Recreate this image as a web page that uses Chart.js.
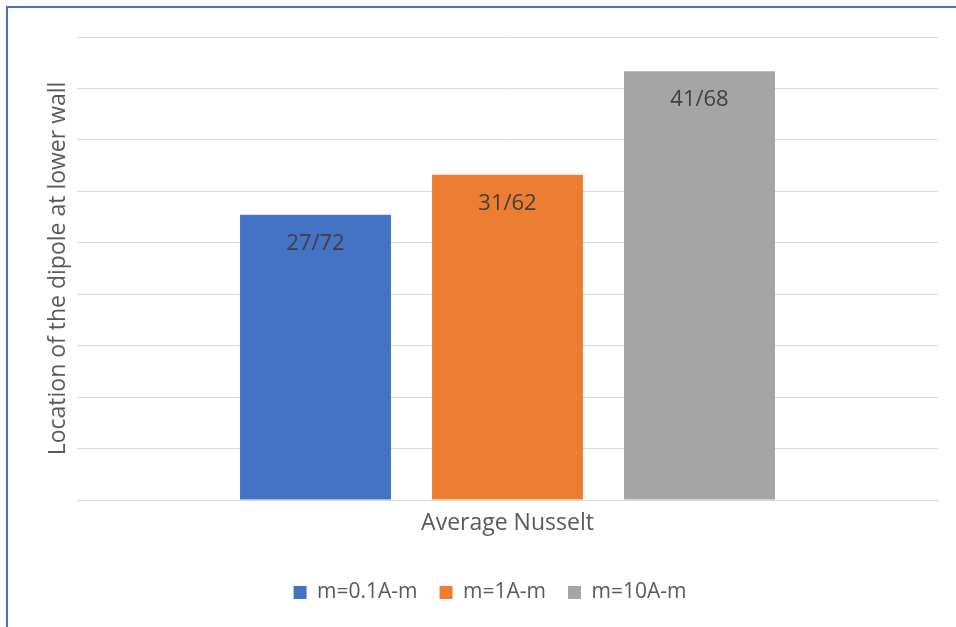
<!DOCTYPE html>
<html>
<head>
<meta charset="utf-8">
<style>
  html, body { margin: 0; padding: 0; background: #ffffff; }
  #wrap { position: relative; width: 956px; height: 627px; }
  canvas { display: block; }
</style>
<script src="https://cdn.jsdelivr.net/npm/chart.js@4/dist/chart.umd.min.js"></script>
</head>
<body>
<div id="wrap"><canvas id="chart" width="956" height="627"></canvas></div>
<script>
// Category and series
const categories = ['Average Nusselt'];
const seriesNames = ['m=0.1A-m', 'm=1A-m', 'm=10A-m'];
const seriesValues = [[27.72], [31.62], [41.68]];
const seriesColors = ['#4472C4', '#ED7D31', '#A5A5A5'];
const yTitle = 'Location of the dipole at lower wall';

const FONT = "'Open Sans', 'DejaVu Sans', sans-serif";

// value labels use "/" as the decimal separator
function fmt(v) {
  return v.toFixed(2).replace('.', '/');
}

// frame lines along the top and left edge of the chart box
const framePlugin = {
  id: 'frame',
  beforeDraw(chart) {
    const ctx = chart.ctx;
    ctx.save();
    ctx.fillStyle = '#ffffff';
    ctx.fillRect(0, 0, chart.width, chart.height);
    ctx.strokeStyle = '#4472C4';
    ctx.lineWidth = 2;
    ctx.beginPath();
    ctx.moveTo(7, chart.height);
    ctx.lineTo(7, 7);
    ctx.lineTo(chart.width, 7);
    ctx.stroke();
    ctx.restore();
  }
};

// value text inside the top of each bar
const valueLabels = {
  id: 'valueLabels',
  afterDatasetsDraw(chart) {
    const ctx = chart.ctx;
    ctx.save();
    ctx.font = '22px ' + FONT;
    ctx.fillStyle = '#404040';
    ctx.textAlign = 'center';
    ctx.textBaseline = 'middle';
    chart.data.datasets.forEach((ds, i) => {
      const meta = chart.getDatasetMeta(i);
      meta.data.forEach((bar, j) => {
        ctx.fillText(fmt(ds.data[j]), bar.x, bar.y + 29);
      });
    });
    ctx.restore();
  }
};

const datasets = seriesNames.map((name, i) => ({
  label: name,
  data: seriesValues[i],
  backgroundColor: seriesColors[i],
  borderWidth: 0,
  categoryPercentage: 0.669,
  barPercentage: 0.786
}));

new Chart(document.getElementById('chart'), {
  type: 'bar',
  data: { labels: categories, datasets },
  plugins: [framePlugin, valueLabels],
  options: {
    responsive: false,
    animation: false,
    layout: { padding: { left: 42, right: 18, top: 37, bottom: 14 } },
    plugins: {
      legend: {
        position: 'bottom',
        labels: {
          font: { family: FONT, size: 21 },
          color: '#595959',
          boxWidth: 13,
          boxHeight: 13,
          padding: 22
        }
      },
      tooltip: { enabled: false }
    },
    scales: {
      x: {
        grid: { display: false, drawTicks: false },
        border: { display: true, color: '#D9D9D9', width: 1 },
        ticks: { display: false },
        title: {
          display: true,
          text: categories[0],
          color: '#595959',
          font: { family: FONT, size: 23 },
          padding: { top: 0, bottom: 23 }
        },
        afterFit(s) { s.height = 60; }
      },
      y: {
        min: 0,
        max: 45,
        ticks: { display: false, stepSize: 5 },
        grid: { color: '#D9D9D9', lineWidth: 1, drawTicks: false },
        border: { display: false },
        title: {
          display: true,
          text: yTitle,
          color: '#595959',
          font: { family: FONT, size: 23 },
          padding: { top: 3, bottom: 0 }
        },
        afterFit(s) { s.width = 35; }
      }
    }
  }
});
</script>
</body>
</html>
